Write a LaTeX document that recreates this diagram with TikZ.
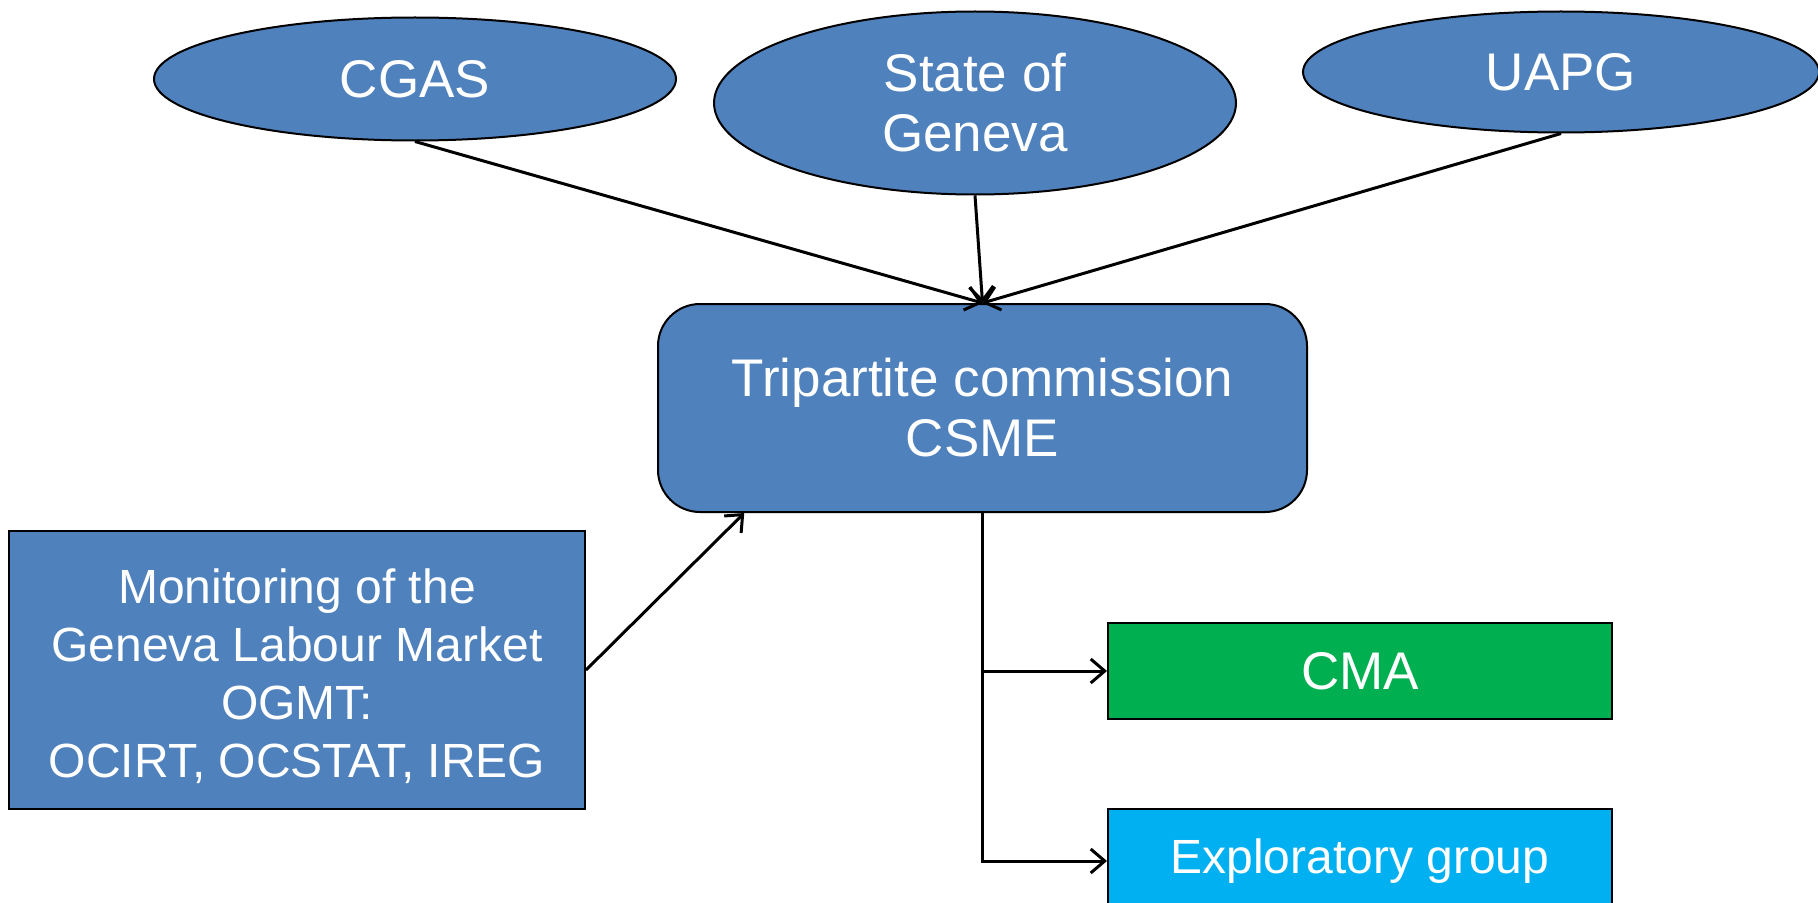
\documentclass[tikz,border=0pt]{standalone}
\usepackage{fontspec}
\setmainfont{Liberation Sans}
\usepackage{tikz}
\usetikzlibrary{shapes.geometric,arrows.meta,calc}
\definecolor{boxblue}{HTML}{4F81BD}
\definecolor{boxgreen}{HTML}{00B050}
\definecolor{boxcyan}{HTML}{00B0F0}

\begin{document}
\begin{tikzpicture}[x=0.5pt,y=0.5pt]
\tikzstyle{every node}+=[inner sep=0pt,text=white,align=center,font=\fontsize{26.5}{30}\selectfont]
\tikzstyle{party}=[ellipse,draw=black,line width=1pt,fill=boxblue]
\tikzstyle{body}=[rectangle,draw=black,line width=1pt]
\tikzstyle{small}=[font=\fontsize{24}{29}\selectfont]
\tikzstyle{link}=[black,line width=1.5pt,-{Straight Barb[length=7pt,width=12pt]}]
\useasboundingbox (0,0) rectangle (1818,902);
\node [party,minimum width=261pt,minimum height=61.5pt] (cgas) at (415,823) {CGAS};
\node [party,minimum width=261pt,minimum height=91.5pt] (state) at (975,799) {State of\\Geneva};
\node [party,minimum width=258pt,minimum height=60.5pt] (uapg) at (1561,830) {UAPG};
\node [body,fill=boxblue,rounded corners=21pt,minimum width=324.5pt,minimum height=104pt] (csme) at (982.5,494) {Tripartite commission\\CSME};
\node [body,small,fill=boxblue,minimum width=288pt,minimum height=139pt] (ogmt) at (297,232) {\rule{0pt}{24pt}Monitoring of the\\Geneva Labour Market\\OGMT:\\OCIRT, OCSTAT, IREG};
\node [body,fill=boxgreen,minimum width=252pt,minimum height=48pt] (cma) at (1360,231) {CMA};
\node [body,small,fill=boxcyan,minimum width=252pt,minimum height=52pt] (expl) at (1360,41) {Exploratory group};
% parties into the commission
\draw [link] (cgas.south) -- (csme.north);
\draw [link] (state.south) -- (csme.north);
\draw [link] (uapg.south) -- (csme.north);
\draw [link] (ogmt.east) -- ($(csme.south west)!0.134!(csme.south east)$);
% commission out to the groups
\draw [link] (csme.south) |- (cma.west);
\draw [link] (csme.south) |- (expl.west);
\end{tikzpicture}
\end{document}
